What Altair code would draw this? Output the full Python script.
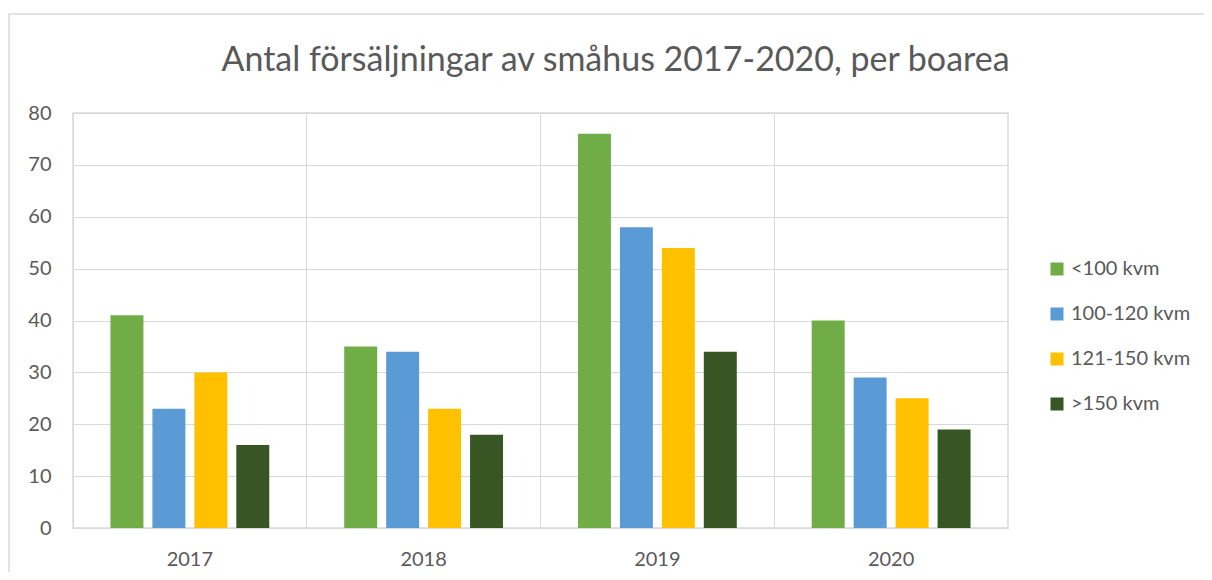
import altair as alt
import pandas as pd

years = ["2017", "2018", "2019", "2020"]
series = ["<100 kvm", "100-120 kvm", "121-150 kvm", ">150 kvm"]
v_lt100 = [41, 35, 76, 40]
v_100_120 = [23, 34, 58, 29]
v_121_150 = [30, 23, 54, 25]
v_gt150 = [16, 18, 34, 19]
colors = ["#70AD47", "#5B9BD5", "#FFC000", "#375623"]

rows = []
for s, vals in zip(series, [v_lt100, v_100_120, v_121_150, v_gt150]):
    for y, v in zip(years, vals):
        rows.append({"year": y, "serie": s, "value": v})
df = pd.DataFrame(rows)

FONT = "Lato"
GRAY = "#595959"
GRID = "#D9D9D9"

bars = alt.Chart(df).mark_bar().encode(
    x=alt.X("year:N", sort=years, title=None,
            scale=alt.Scale(paddingInner=0, paddingOuter=0),
            axis=alt.Axis(labelAngle=0, grid=True, bandPosition=0, ticks=False,
                          domain=False, labelPadding=21, labelFontSize=20,
                          labelColor=GRAY, labelFont=FONT, gridColor=GRID)),
    xOffset=alt.XOffset("serie:N", sort=series,
                        scale=alt.Scale(paddingInner=0.214, paddingOuter=0.893)),
    y=alt.Y("value:Q", title=None,
            scale=alt.Scale(domain=[0, 80]),
            axis=alt.Axis(values=list(range(0, 81, 10)), ticks=False, domain=False,
                          labelPadding=22, labelFontSize=20, labelColor=GRAY,
                          labelFont=FONT, gridColor=GRID)),
    color=alt.Color("serie:N", sort=series,
                    scale=alt.Scale(domain=series, range=colors),
                    legend=alt.Legend(title=None, orient="none", legendX=974, legendY=146,
                                      symbolType="square", symbolSize=169,
                                      symbolStrokeWidth=0, labelFontSize=20,
                                      labelColor=GRAY, labelFont=FONT,
                                      rowPadding=25, labelOffset=4)),
)

border = alt.Chart(alt.Data(values=[{}])).mark_rect(
    fill=None, stroke=GRID, strokeWidth=1.5, clip=False
).encode(
    x=alt.value(-64), x2=alt.value(1200), y=alt.value(-99), y2=alt.value(500)
)

chart = alt.layer(border, bars).properties(
    width=935, height=415,
    title=alt.TitleParams("Antal försäljningar av småhus 2017-2020, per boarea",
                          fontSize=34, font=FONT, fontWeight="normal", color=GRAY,
                          anchor="middle", frame="group", baseline="alphabetic",
                          dx=75, dy=92, offset=0),
    autosize=alt.AutoSizeParams(type="none"),
    padding={"left": 65, "top": 105, "right": 196, "bottom": 44},
).configure_view(stroke=GRID, strokeWidth=1.5)

chart.save("out.html", embed_options={"renderer": "svg", "actions": False})
